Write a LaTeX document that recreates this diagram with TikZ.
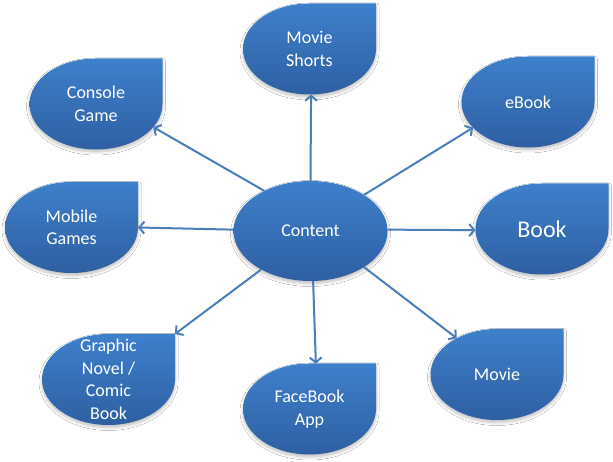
\documentclass[tikz,border=0pt]{standalone}
\usepackage{fontspec}
\setmainfont{Carlito}
\usetikzlibrary{shapes.geometric,arrows.meta,shadows.blur}
\definecolor{fillTop}{RGB}{62,128,203}
\definecolor{fillBot}{RGB}{46,95,162}
\definecolor{arrowc}{RGB}{74,126,187}
\tikzset{
 shapefill/.style={top color=fillTop,bottom color=fillBot,
   blur shadow={shadow xshift=0pt,shadow yshift=-2.5pt,shadow blur steps=6,shadow blur radius=3pt,shadow opacity=25}},
 tearanchor/.style={ellipse,minimum width=133pt,minimum height=91pt,inner sep=0pt,outer sep=0pt},
 lbltxt/.style={text=white,align=center,font=\fontsize{18}{22.5}\selectfont},
 conn/.style={draw=arrowc,line width=2pt,-{Straight Barb[length=5pt,width=12pt]}},
}
\newcommand\teardrop[4]{%
 \path[shapefill] (#2+66.5,#3+45.5) -- (#2,#3+45.5) arc[start angle=90,end angle=360,x radius=66.5pt,y radius=45.5pt] -- cycle;
 \node[tearanchor] (#1) at (#2,#3) {};
 \node[lbltxt] (#1-t) at (#1) {#4};
}
\begin{document}
\begin{tikzpicture}[x=1pt,y=1pt]
\fill[white] (0,0) rectangle (613,462);
\useasboundingbox (0,0) rectangle (613,462);
\teardrop{ms}{309.5}{413}{Movie\\Shorts}
\teardrop{cg}{96}{358}{Console\\Game}
\teardrop{eb}{528}{360}{eBook}
\teardrop{mg}{71.5}{234.5}{Mobile\\Games}
\teardrop{bk}{542}{233}{\fontsize{24}{28}\selectfont Book}
\teardrop{gn}{108.5}{82.5}{Graphic\\Novel /\\Comic\\Book}
\teardrop{fb}{309.5}{53}{FaceBook\\App}
\teardrop{mv}{497}{87.5}{Movie}
\node[ellipse,shapefill,minimum width=154pt,minimum height=100pt,inner sep=0pt,lbltxt] (content) at (310.5,231) {Content};
\coordinate (gnc) at (gn.east |- gn.north);
\draw[conn] (content.90) -- (ms.-88);
\draw[conn] (content.139.5) -- (cg.-22);
\draw[conn] (content.34.4) -- (eb.-155.3);
\draw[conn] (content.179) -- (mg.0);
\draw[conn] (content.1) -- (bk.181);
\draw[conn] (content.-142) -- (gnc);
\draw[conn] (content.-87) -- (fb.82);
\draw[conn] (content.-34.4) -- (mv.138.2);
\end{tikzpicture}
\end{document}
